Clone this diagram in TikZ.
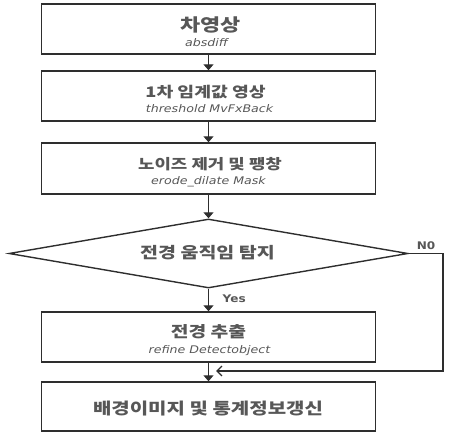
\documentclass[tikz,border=0pt]{standalone}
\usepackage{fontspec}
\setmainfont{DejaVu Sans}
\newfontfamily\kr{Noto Sans CJK KR}[FakeStretch=1.25]
\newfontfamily\subf{DejaVu Sans}[FakeStretch=1.2]
\newfontfamily\lbf{DejaVu Sans}[FakeStretch=1.15]
\usetikzlibrary{shapes.geometric,arrows.meta}
\begin{document}
\begin{tikzpicture}[x=1pt,y=-1pt,
  line width=1.4pt,
  ln/.style={draw=black!82},
  box/.style={ln, rectangle, minimum width=334pt, inner sep=0pt},
  txt/.style={text=black!66, inner sep=0pt},
  main/.style={txt, font=\kr\bfseries\fontsize{#1}{#1}\selectfont},
  sub/.style={txt, font=\subf\itshape\fontsize{10.5}{11}\selectfont},
  flow/.style={ln, line width=1.3pt, -{Triangle[length=6pt,width=10pt]}},
  lbl/.style={txt, font=\lbf\bfseries\fontsize{10.5}{11}\selectfont}
]
\useasboundingbox (0,0) rectangle (452,438);
\node[box, minimum height=50pt] (b1) at (208.5,29) {};
\node[main=17.5] (t1) at (210.5,24.5) {차영상};
\node[sub] (s1) at (206.5,43) {absdiff};
\node[box, minimum height=50pt] (b2) at (208.5,96) {};
\node[main=14.6] (t2) at (205.5,92) {1차 임계값 영상};
\node[sub] (s2) at (209.5,108.5) {threshold MvFxBack};
\node[box, minimum height=51pt] (b3) at (208.5,168.5) {};
\node[main=14.3] (t3) at (210,164) {노이즈 제거 및 팽창};
\node[sub] (s3) at (208.5,181.5) {erode\_dilate Mask};
\node[ln, diamond, minimum width=399pt, minimum height=69pt, inner sep=0pt] (d) at (208.5,253.5) {};
\node[main=15.6] (t4) at (207.5,252.5) {전경 움직임 탐지};
\node[box, minimum height=50pt] (b4) at (208.5,337) {};
\node[main=15.4] (t5) at (208.5,331.5) {전경 추출};
\node[sub] (s5) at (209.5,351) {refine Detectobject};
\node[box, minimum height=49pt] (b5) at (208.5,406.5) {};
\node[main=16] (t6) at (208,409) {배경이미지 및 통계정보갱신};
\draw[flow] (b1.south) -- (b2.north);
\draw[flow] (b2.south) -- (b3.north);
\draw[flow] (b3.south) -- (d.north);
\draw[flow] (d.south) -- (b4.north);
\draw[flow] (b4.south) -- (b5.north);
\node[lbl, anchor=west] (yes) at (222,299) {Yes};
\coordinate (r) at (443,253.5);
\coordinate (m) at (216,371);
\draw[ln, line width=1.3pt, -{Straight Barb[length=5pt,width=10pt]}] (d.east) -- (r) |- (m);
\node[lbl] (no) at (426,245.5) {N0};
\end{tikzpicture}
\end{document}
